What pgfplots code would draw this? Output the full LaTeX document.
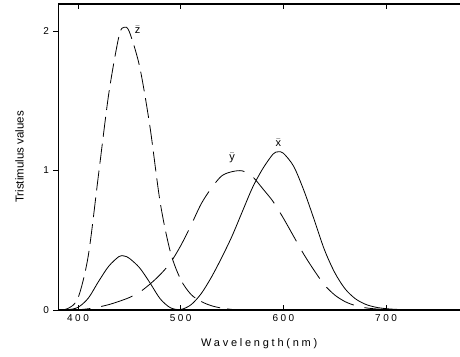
\documentclass[border=0pt]{standalone}
\usepackage{fontspec}
\setmainfont{Liberation Sans}
\newfontfamily\spaced[LetterSpace=25]{Liberation Sans}
\usepackage{pgfplots}
\pgfplotsset{compat=1.18}
\begin{document}
\begin{tikzpicture}
\begin{axis}[
  scale only axis,
  width=401.5pt, height=306pt,
  xmin=381, xmax=772, ymin=0, ymax=2.194,
  clip=true,
  axis line style={draw=none},
  xtick={400,500,600,700},
  ytick={0,1,2},
  /pgf/number format/assume math mode=true,
  xticklabel={\spaced\fontsize{10}{12}\selectfont\pgfmathprintnumber{\tick}},
  yticklabel={\fontsize{10}{12}\selectfont\pgfmathprintnumber{\tick}},
  x tick label style={yshift=-1pt},
  y tick label style={xshift=-1pt},
  xtick align=inside, ytick align=outside,
  major tick length=5pt,
  tick style={black, line width=0.8pt},
  xlabel={\spaced\fontsize{11}{13}\selectfont Wavelength(nm)},
  ylabel={\fontsize{11.5}{13}\selectfont Tristimulus values},
  xlabel style={at={(0.5,0)}, anchor=center, yshift=-34pt},
  ylabel style={at={(0,0.5)}, anchor=center, rotate=0, yshift=39pt},
  after end axis/.code={
    \draw[line width=1.8pt, line cap=rect] (rel axis cs:1,1) -- (rel axis cs:0,1) -- (rel axis cs:0,0) -- (rel axis cs:1,0);
  },
]
% xbar (CIE 1964 10 deg)
\addplot[black, line width=0.8pt, smooth] coordinates {
(380,0.00016) (390,0.00236) (400,0.01911) (410,0.08474) (420,0.20449) (430,0.31468)
(440,0.38373) (445,0.3871) (450,0.37070) (460,0.30227) (470,0.19562) (480,0.08051)
(490,0.01617) (500,0.00382) (510,0.03747) (520,0.11775) (530,0.23649) (540,0.37677)
(550,0.52983) (560,0.70522) (570,0.87866) (580,1.01416) (590,1.11852) (595,1.1343)
(600,1.12399) (610,1.03048) (620,0.85630) (630,0.64747) (640,0.43157) (650,0.26833)
(660,0.15257) (670,0.08126) (680,0.04085) (690,0.01994) (700,0.00958) (710,0.00455)
(720,0.00218) (730,0.00105) (740,0.00051) (750,0.00025) (760,0.00013) (770,0.00007) (780,0.00003)
};
% ybar
\addplot[black, line width=0.8pt, smooth, dash pattern=on 33pt off 11pt] coordinates {
(380,0.00002) (390,0.00025) (400,0.00200) (410,0.00876) (420,0.02139) (430,0.03868)
(440,0.06208) (450,0.08946) (460,0.12820) (470,0.18519) (480,0.25359) (490,0.33913)
(500,0.46078) (510,0.60674) (520,0.76176) (530,0.87521) (540,0.96199) (550,0.99176)
(560,0.99734) (570,0.95555) (580,0.86893) (590,0.77741) (600,0.65834) (610,0.52796)
(620,0.39806) (630,0.28349) (640,0.17983) (650,0.10763) (660,0.06028) (670,0.03180)
(680,0.01591) (690,0.00775) (700,0.00372) (710,0.00177) (720,0.00085) (730,0.00041)
(740,0.00020) (750,0.00010) (760,0.00005) (770,0.00003) (780,0.00001)
};
% zbar
\addplot[black, line width=0.8pt, smooth, dash pattern=on 20pt off 7pt] coordinates {
(380,0.00071) (390,0.01048) (400,0.08601) (410,0.38937) (420,0.97254) (430,1.55348)
(440,1.96728) (445,2.0270) (450,1.99480) (460,1.74537) (470,1.31756) (480,0.77213)
(490,0.41525) (500,0.21850) (510,0.11204) (520,0.06071) (530,0.03045) (540,0.01368)
(550,0.00399) (560,0.0) (570,0.0) (580,0.0) (600,0.0) (650,0.0) (700,0.0) (780,0.0)
};
\node[font=\fontsize{11}{12}\selectfont] at (axis cs:595,1.20) {$\bar{\hbox{x}}$};
\node[font=\fontsize{11}{12}\selectfont] at (axis cs:550,1.09) {$\bar{\hbox{y}}$};
\node[font=\fontsize{11}{12}\selectfont] at (axis cs:458,2.01) {$\bar{\hbox{z}}$};
\end{axis}
\pgfresetboundingbox
\path (-58.5pt,-46pt) rectangle (401.5pt,310pt);
\end{tikzpicture}
\end{document}
